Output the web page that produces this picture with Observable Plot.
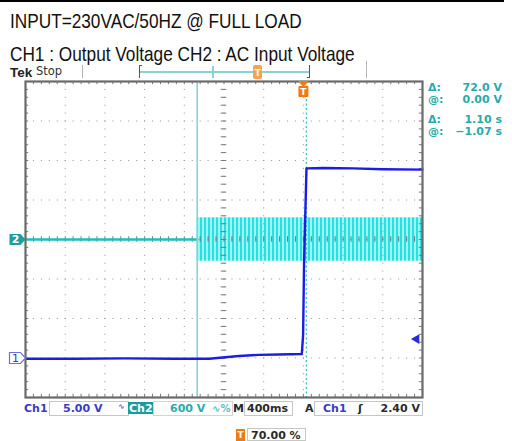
<!DOCTYPE html>
<html><head><meta charset="utf-8">
<script src="https://cdn.jsdelivr.net/npm/d3@7"></script>
<script src="https://cdn.jsdelivr.net/npm/@observablehq/plot@0.6"></script>
<style>
html,body{margin:0;padding:0;background:#fff;}
#wrap{position:relative;width:512px;height:441px;overflow:hidden;background:#fff;}
.lbl{position:absolute;white-space:nowrap;}
.ttl{position:absolute;left:10px;white-space:nowrap;font:21px 'Liberation Sans',Arial,sans-serif;color:#111;transform:scaleX(0.82);transform-origin:0 0;line-height:24px;}
</style></head><body><div id="wrap"></div>
<script>
// ---------- data ----------
const titleLines = ["INPUT=230VAC/50HZ @ FULL LOAD", "CH1 : Output Voltage CH2 : AC Input Voltage"];
// scope settings
const ch1VoltsPerDiv = 5, ch2VoltsPerDiv = 600, secPerDiv = 0.4;
const ch1Offset = -3, ch2Offset = 0;      // ground marker positions (divisions)
const triggerPercent = 70, triggerTime = 0, triggerLevel = 2.40;
// CH1 : output voltage (s, V)
const ch1Time = [-2.80, -2.30, -1.80, -1.30, -0.95, -0.87, -0.65, -0.45, -0.25, -0.016, -0.003, 0.007, 0.031, 0.20, 0.50, 0.80, 1.20];
const ch1Volt = [-0.10, -0.10, -0.05, -0.10, -0.10, 0.00, 0.25, 0.40, 0.45, 0.50, 2.9, 12.3, 24.0, 24.05, 24.0, 23.9, 23.85];
// CH2 : AC input voltage
const ch2FlatTime = [-2.80, -1.07];
const ch2FlatVolt = [0, 0];
const acStart = -1.07, acEnd = 1.20, acPeak = 330;
// cursors
const cursorTimes = [-1.07, 0.03];
const readDeltaV = 72.0, readAtV = 0.00;
// ---------- build ----------
const wrap = document.getElementById("wrap");
const ch1 = ch1Time.map((t, i) => ({t, v: ch1Volt[i]}));
const ch2Flat = ch2FlatTime.map((t, i) => ({t, v: ch2FlatVolt[i]}));
const tDom = [-triggerPercent / 100 * 10 * secPerDiv, (1 - triggerPercent / 100) * 10 * secPerDiv];
const majorT = d3.range(11).map(i => tDom[0] + i * secPerDiv);
const minorT = d3.range(51).map(i => tDom[0] + i * secPerDiv / 5);
const majorV = d3.range(-4, 5);
const minorV = d3.range(41).map(i => -4 + i * 0.2);
const centerT = tDom[0] + 5 * secPerDiv;

const tagSym = {draw(ctx) { ctx.moveTo(-16, -5.5); ctx.lineTo(-5, -5.5); ctx.lineTo(0, 0); ctx.lineTo(-5, 5.5); ctx.lineTo(-16, 5.5); ctx.closePath(); }};
const trigSym = {draw(ctx) { ctx.moveTo(-5.5, 0); ctx.lineTo(5.5, 0); ctx.lineTo(0, 6); ctx.closePath();
  ctx.moveTo(-4, 5); ctx.lineTo(4, 5); ctx.quadraticCurveTo(5, 5, 5, 6); ctx.lineTo(5, 15); ctx.quadraticCurveTo(5, 16, 4, 16); ctx.lineTo(-4, 16); ctx.quadraticCurveTo(-5, 16, -5, 15); ctx.lineTo(-5, 6); ctx.quadraticCurveTo(-5, 5, -4, 5); ctx.closePath(); }};

const gridC = "#959595", tickC = "#7a7a7a";
const svg = Plot.plot({
  width: 512, height: 337,
  marginTop: 19, marginBottom: 2, marginLeft: 25, marginRight: 90,
  x: {domain: tDom, axis: null},
  y: {domain: [-4, 4], axis: null},
  style: {background: "transparent", overflow: "visible"},
  marks: [
    Plot.rect([{t1: acStart, t2: acEnd, lo: ch2Offset - acPeak / ch2VoltsPerDiv, hi: ch2Offset + acPeak / ch2VoltsPerDiv}],
      {x1: "t1", x2: "t2", y1: "lo", y2: "hi", fill: "url(#acStripes)"}),
    Plot.ruleX(majorT.slice(1, -1), {stroke: gridC, strokeDasharray: "1,6.9"}),
    Plot.ruleY(majorV.slice(1, -1), {stroke: gridC, strokeDasharray: "1,6.94"}),
    Plot.ruleX(minorT, {y1: 4, y2: 3.92, stroke: tickC}),
    Plot.ruleX(minorT, {y1: -4, y2: -3.92, stroke: tickC}),
    Plot.ruleX(minorT, {y1: -0.07, y2: 0.07, stroke: tickC}),
    Plot.ruleY(minorV, {x1: tDom[0], x2: tDom[0] + 0.032, stroke: tickC}),
    Plot.ruleY(minorV, {x1: tDom[1] - 0.032, x2: tDom[1], stroke: tickC}),
    Plot.ruleY(minorV, {x1: centerT - 0.028, x2: centerT + 0.028, stroke: tickC}),
    Plot.line(ch2Flat, {x: "t", y: d => ch2Offset + d.v / ch2VoltsPerDiv, stroke: "#1fbcbc", strokeWidth: 2.6}),
    Plot.ruleX([cursorTimes[0]], {stroke: "#86d3d3", strokeWidth: 1.6}),
    Plot.ruleX([cursorTimes[1]], {stroke: "#3ec6c6", strokeWidth: 1.4, strokeDasharray: "2,2.5"}),
    Plot.line(ch1, {x: "t", y: d => ch1Offset + d.v / ch1VoltsPerDiv, stroke: "#1c1ce8", strokeWidth: 2.4}),
    Plot.frame({stroke: "#6a6a6a", strokeWidth: 2.2}),
    // channel ground tags
    Plot.dot([{v: ch2Offset}], {x: tDom[0], y: "v", symbol: tagSym, fill: "#1d9f9f", stroke: "none"}),
    Plot.text([{v: ch2Offset, s: "2"}], {x: tDom[0], y: "v", text: "s", dx: -10, fill: "white", fontWeight: "bold", fontSize: 11, fontFamily: "DejaVu Sans"}),
    Plot.dot([{v: ch1Offset}], {x: tDom[0], y: "v", symbol: tagSym, fill: "white", stroke: "#7070d8", strokeWidth: 1.2}),
    Plot.text([{v: ch1Offset, s: "1"}], {x: tDom[0], y: "v", text: "s", dx: -10, fill: "#3434c8", fontSize: 11, fontFamily: "DejaVu Sans"}),
    // trigger markers
    Plot.dot([triggerTime], {x: d => d, y: 4, symbol: trigSym, fill: "#f07a10", stroke: "none", dy: -0.5}),
    Plot.text([triggerTime], {x: d => d, y: 4, text: () => "T", dy: 10.5, fill: "white", fontWeight: "bold", fontSize: 9, fontFamily: "DejaVu Sans"}),
    Plot.dot([triggerLevel], {x: tDom[1], y: d => ch1Offset + d / ch1VoltsPerDiv, symbol: "triangle", rotate: -90, r: 3.6, dx: -6, fill: "#2a2ad8", stroke: "none"})
  ]
});
d3.select(svg).insert("defs", ":first-child").html(
  '<pattern id="acStripes" patternUnits="userSpaceOnUse" x="0" y="0" width="4" height="8">' +
  '<rect width="4" height="8" fill="#a2f2f2"/><rect width="2" height="8" fill="#22e2e2"/></pattern>');
svg.style.position = "absolute";
svg.style.left = "0px";
svg.style.top = "62px";
wrap.appendChild(svg);

// ---------- chrome ----------
function label(text, x, base, o = {}) {
  const size = o.size || 11;
  const el = document.createElement("div");
  el.className = "lbl";
  el.textContent = text;
  el.style.font = `${o.weight || "bold"} ${size}px ${o.family || "'DejaVu Sans'"}`;
  el.style.lineHeight = size + "px";
  el.style.color = o.color || "#2a2a2a";
  el.style.top = (base - 0.846 * size) + "px";
  if (o.align === "right") el.style.right = (512 - x) + "px"; else el.style.left = x + "px";
  wrap.appendChild(el);
  return el;
}
function rect(x, y, w, h, style) {
  const el = document.createElement("div");
  el.style.position = "absolute";
  el.style.left = x + "px"; el.style.top = y + "px";
  el.style.width = w + "px"; el.style.height = h + "px";
  Object.assign(el.style, style || {});
  wrap.appendChild(el);
  return el;
}
// top border + titles
rect(0, 0, 504, 2, {background: "#000"});
titleLines.forEach((s, i) => {
  const d = document.createElement("div");
  d.className = "ttl"; d.textContent = s; d.style.top = (i === 0 ? 9 : 42) + "px";
  wrap.appendChild(d);
});
// header
label("Tek", 10, 77, {size: 13.5, family: "'Liberation Sans'", color: "#222"});
label("Stop", 36, 76, {size: 11.5, weight: "normal", color: "#333"});
rect(82, 65, 1, 13, {background: "#b4b4b4"});
rect(366, 61, 1, 17, {background: "#b4b4b4"});
rect(139, 65, 1, 13, {background: "#555"});
rect(139, 65, 3, 1, {background: "#555"});
rect(309, 65, 1, 13, {background: "#555"});
rect(307, 77, 3, 1, {background: "#555"});
rect(140, 71, 169, 2, {background: "#86d4d4"});
rect(212, 66, 2, 12, {background: "#86d4d4"});
rect(253, 65, 9, 14, {background: "#f6a24c", borderRadius: "2px"});
label("T", 254.5, 76, {size: 9.5, color: "#fff3e0"});
// status bar
const blue = "#3a3ac8", teal = "#2aabab", dark = "#2a2a2a";
rect(49, 401, 80, 15, {border: "1px solid #c6c6c6", boxSizing: "border-box"});
rect(153, 401, 80, 15, {border: "1px solid #d4d4d4", boxSizing: "border-box"});
rect(244, 401, 49, 15, {border: "1px solid #c6c6c6", boxSizing: "border-box"});
rect(314, 401, 109, 15, {border: "1px solid #c6c6c6", boxSizing: "border-box"});
label("Ch1", 24, 412, {color: blue});
label(ch1VoltsPerDiv.toFixed(2) + " V", 63, 412, {color: blue});
label("∿", 118, 410, {size: 8, color: "#4c6fcf"});
rect(128, 402, 25, 12, {background: "#179d9d"});
label("Ch2", 129, 412, {color: "#fff"});
label(ch2VoltsPerDiv + " V", 170, 412, {color: teal});
label("∿%", 212, 412, {size: 10, color: "#5cc0c0"});
label("M", 233, 412, {color: dark});
label((secPerDiv * 1000) + "ms", 247, 412, {color: dark});
label("A", 305, 412, {color: dark});
label("Ch1", 323, 412, {color: blue});
label("ʃ", 358, 412, {color: dark});
label(triggerLevel.toFixed(2) + " V", 420, 412, {color: dark, align: "right"});
rect(236, 429, 9, 12, {background: "#f07a10"});
label("T", 237.5, 439, {size: 9, color: "#fff"});
rect(247, 428, 59, 13, {border: "1px solid #c6c6c6", boxSizing: "border-box"});
label(triggerPercent.toFixed(2) + " %", 251, 439, {color: dark});
// cursor readouts
const dT = cursorTimes[1] - cursorTimes[0];
const fmtT = v => (v < 0 ? "\u2212" : "") + Math.abs(v).toFixed(2) + " s";
[["\u0394:", readDeltaV.toFixed(1) + " V", 91], ["@:", readAtV.toFixed(2) + " V", 103],
 ["\u0394:", fmtT(dT), 123], ["@:", fmtT(cursorTimes[0]), 135]].forEach(([a, b, y]) => {
  label(a, 428, y, {color: teal});
  label(b, 502, y, {color: teal, align: "right"});
});
</script></body></html>
